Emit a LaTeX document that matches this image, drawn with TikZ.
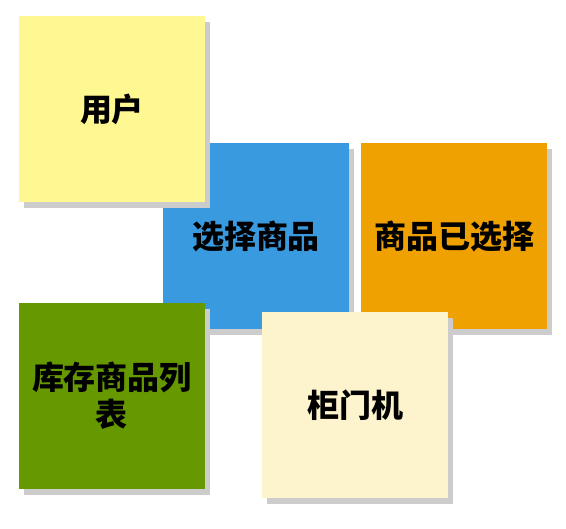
\documentclass[tikz,border=0pt]{standalone}
\usepackage{tikz}
\usepackage{fontspec}
\usetikzlibrary{shadows}
\newfontfamily\cjk{Noto Sans CJK SC}
\definecolor{noteyellow}{RGB}{255,247,145}
\definecolor{noteblue}{RGB}{58,154,224}
\definecolor{noteorange}{RGB}{238,161,0}
\definecolor{notegreen}{RGB}{102,153,0}
\definecolor{notecream}{RGB}{253,243,204}
\begin{document}
\begin{tikzpicture}[x = 1pt, y = -1pt]
        \tikzstyle{note} = [shape = rectangle, minimum size = 186pt, inner sep = 2pt, align = center, font = \cjk\bfseries\fontsize{32}{37}\selectfont, drop shadow = {shadow xshift = 5pt, shadow yshift = -6pt, fill = black!20, opacity = 1}]
        \useasboundingbox (0, 0) rectangle (566, 529);
        \node[note] (S-2) at (256, 236) [fill = noteblue] {选择商品};
        \node[note] (S-3) at (454, 236) [fill = noteorange] {商品已选择};
        \node[note] (S-1) at (112, 109) [fill = noteyellow] {用户};
        \node[note] (S-4) at (112, 396) [fill = notegreen] {库存商品列\\表};
        \node[note] (S-5) at (355, 405) [fill = notecream] {柜门机};
      \end{tikzpicture}
\end{document}
